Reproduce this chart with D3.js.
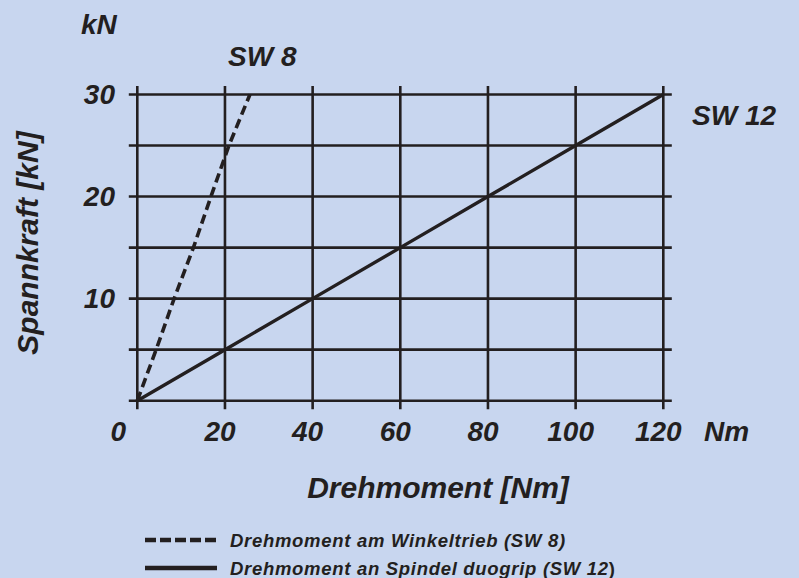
<!DOCTYPE html>
<meta charset="utf-8">
<script src="https://d3js.org/d3.v7.min.js"></script>
<style>
  body { margin: 0; background: #c8d6ef; }
  text { font-family: "Liberation Sans", Arial, sans-serif; font-weight: bold; font-style: italic; fill: #231f20; }
</style>
<div id="chart"></div>
<script>

// data
var xTicks = [0, 20, 40, 60, 80, 100, 120]
var yGrid = [0, 5, 10, 15, 20, 25, 30]
var yLabels = [10, 20, 30]

// SW 8 (Winkeltrieb): torque [Nm] vs clamping force [kN]
var sw8Torque = [0, 4.3, 8.4, 12.8, 16.8, 20.9, 25.7]
var sw8Force  = [0, 5, 10, 15, 20, 25, 30]

// SW 12 (Spindel duogrip)
var sw12Torque = [0, 20, 40, 60, 80, 100, 120]
var sw12Force  = [0, 5, 10, 15, 20, 25, 30]

var legendLabels = ["Drehmoment am Winkeltrieb (SW 8", "Drehmoment an Spindel duogrip (SW 12"]

var width = 799, height = 578
var ink = "#231f20"

var svg = d3.select("#chart").append("svg")
    .attr("width", width)
    .attr("height", height)

var x = d3.scaleLinear().domain([0, 120]).range([137.3, 663.3])
var y = d3.scaleLinear().domain([0, 30]).range([400.7, 94.5])

// grid
svg.append("g").selectAll("line")
  .data(xTicks)
  .enter().append("line")
    .attr("x1", function(d){ return x(d) })
    .attr("x2", function(d){ return x(d) })
    .attr("y1", y(30) - 8.5)
    .attr("y2", y(0) + 8.5)
    .attr("stroke", ink)
    .attr("stroke-width", 2.6)

svg.append("g").selectAll("line")
  .data(yGrid)
  .enter().append("line")
    .attr("y1", function(d){ return y(d) })
    .attr("y2", function(d){ return y(d) })
    .attr("x1", x(0) - 8.5)
    .attr("x2", x(120) + 8.5)
    .attr("stroke", ink)
    .attr("stroke-width", 2.6)

// tick labels
svg.append("g").selectAll("text")
  .data(xTicks)
  .enter().append("text")
    .attr("x", function(d){ return d == 0 ? x(d) - 19 : x(d) - 5 })
    .attr("y", 441)
    .attr("text-anchor", "middle")
    .style("font-size", "28px")
    .text(function(d){ return d })

svg.append("g").selectAll("text")
  .data(yLabels)
  .enter().append("text")
    .attr("x", 115)
    .attr("y", function(d){ return y(d) + 9 })
    .attr("text-anchor", "end")
    .style("font-size", "28px")
    .text(function(d){ return d })

// units and titles
svg.append("text").attr("x", 81).attr("y", 34).style("font-size", "28px").text("kN")
svg.append("text").attr("x", 704).attr("y", 441).style("font-size", "28px").text("Nm")

svg.append("text")
    .attr("x", 438).attr("y", 498)
    .attr("text-anchor", "middle")
    .style("font-size", "30px")
    .text("Drehmoment [Nm]")

svg.append("text")
    .attr("transform", "translate(38," + 243 + ") rotate(-90)")
    .attr("text-anchor", "middle")
    .style("font-size", "30px")
    .text("Spannkraft [kN]")

// series
var line = d3.line()
  .x(function(d){ return x(d[0]) })
  .y(function(d){ return y(d[1]) })

svg.append("path")
    .datum(d3.zip(sw12Torque, sw12Force))
    .attr("d", line)
    .attr("fill", "none")
    .attr("stroke", ink)
    .attr("stroke-width", 3.4)

svg.append("path")
    .datum(d3.zip(sw8Torque, sw8Force))
    .attr("d", line)
    .attr("fill", "none")
    .attr("stroke", ink)
    .attr("stroke-width", 3.6)
    .attr("stroke-dasharray", "9.5,5")

svg.append("text").attr("x", 228).attr("y", 66).style("font-size", "28px").text("SW 8")
svg.append("text").attr("x", 692).attr("y", 125).style("font-size", "28px").text("SW 12")

// legend
var legend = svg.append("g").selectAll("g")
  .data(legendLabels)
  .enter().append("g")
    .attr("transform", function(d, i){ return "translate(0," + (540 + i * 28) + ")" })

legend.append("line")
    .attr("x1", 145).attr("x2", 217)
    .attr("y1", 0).attr("y2", 0)
    .attr("stroke", ink)
    .attr("stroke-width", 4.3)
    .attr("stroke-dasharray", function(d, i){ return i == 0 ? "11,4" : null })

var legendText = legend.append("text")
    .attr("x", 230).attr("y", 7)
    .style("font-size", "18.5px")
    .style("letter-spacing", "0.7px")

legendText.append("tspan").text(function(d){ return d })
// the closing bracket of the second entry is upright in the original
legendText.append("tspan")
    .style("font-style", function(d, i){ return i == 1 ? "normal" : "italic" })
    .text(")")

</script>
